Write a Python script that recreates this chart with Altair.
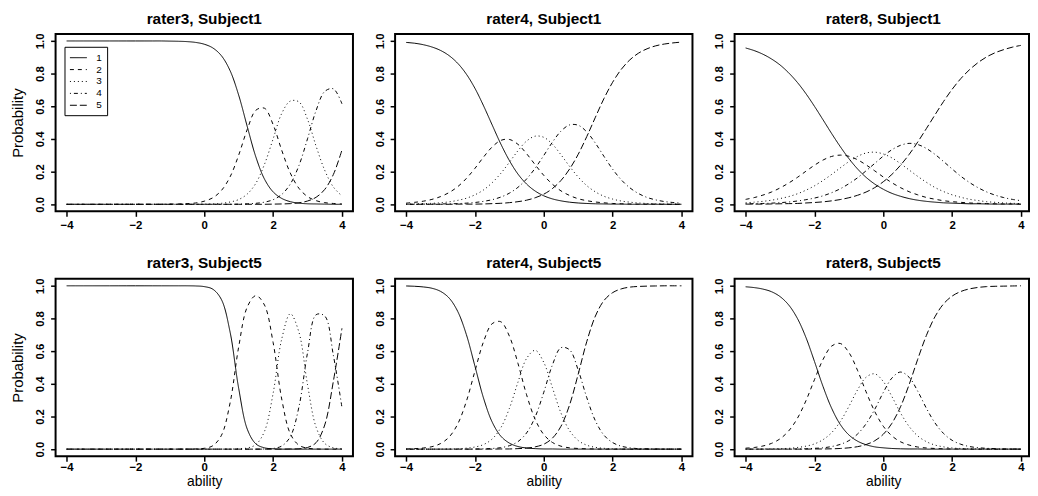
import altair as alt
import pandas as pd

THETA = [-4, -3.75, -3.5, -3.25, -3, -2.75, -2.5, -2.25, -2, -1.75, -1.5, -1.25, -1, -0.75,
         -0.5, -0.25, 0, 0.25, 0.5, 0.75, 1, 1.25, 1.5, 1.75, 2, 2.25, 2.5, 2.75, 3, 3.25,
         3.5, 3.75, 4]

CATEGORIES = ["1", "2", "3", "4", "5"]

# rater3, Subject1
R3S1_C1 = [1, 1, 1, 1, 1, 1, 1, 1, 1, 1, 1, 1, 0.999, 0.998, 0.996, 0.991, 0.980, 0.957, 0.909,
           0.818, 0.668, 0.475, 0.289, 0.154, 0.076, 0.036, 0.016, 0.007, 0.003, 0.002, 0.001, 0, 0]
R3S1_C2 = [0, 0, 0, 0, 0, 0, 0, 0, 0, 0, 0, 0, 0.001, 0.002, 0.004, 0.008, 0.019, 0.040, 0.085,
           0.168, 0.301, 0.459, 0.576, 0.588, 0.488, 0.331, 0.191, 0.098, 0.047, 0.022, 0.010,
           0.005, 0.002]
R3S1_C3 = [0, 0, 0, 0, 0, 0, 0, 0, 0, 0, 0, 0, 0, 0, 0, 0, 0.001, 0.003, 0.006, 0.014, 0.029,
           0.063, 0.129, 0.245, 0.400, 0.556, 0.632, 0.627, 0.520, 0.355, 0.208, 0.106, 0.051]
R3S1_C4 = [0, 0, 0, 0, 0, 0, 0, 0, 0, 0, 0, 0, 0, 0, 0, 0, 0, 0, 0, 0, 0.001, 0.003, 0.006,
           0.013, 0.028, 0.060, 0.124, 0.237, 0.401, 0.575, 0.691, 0.707, 0.615]
R3S1_C5 = [0, 0, 0, 0, 0, 0, 0, 0, 0, 0, 0, 0, 0, 0, 0, 0, 0, 0, 0, 0, 0, 0, 0, 0, 0.001,
           0.002, 0.004, 0.009, 0.020, 0.043, 0.091, 0.182, 0.332]

# rater4, Subject1
R4S1_C1 = [0.991, 0.986, 0.977, 0.963, 0.942, 0.910, 0.863, 0.797, 0.710, 0.603, 0.486, 0.370,
           0.268, 0.185, 0.124, 0.081, 0.052, 0.033, 0.021, 0.013, 0.008, 0.005, 0.003, 0.002,
           0.001, 0.001, 0, 0, 0, 0, 0, 0, 0]
R4S1_C2 = [0.007, 0.012, 0.019, 0.030, 0.047, 0.072, 0.108, 0.158, 0.220, 0.289, 0.351, 0.391,
           0.397, 0.367, 0.310, 0.242, 0.177, 0.123, 0.082, 0.054, 0.034, 0.022, 0.014, 0.009,
           0.005, 0.003, 0.002, 0.001, 0.001, 0.001, 0, 0, 0]
R4S1_C3 = [0.001, 0.002, 0.004, 0.006, 0.009, 0.015, 0.024, 0.037, 0.058, 0.088, 0.132, 0.189,
           0.257, 0.328, 0.387, 0.417, 0.410, 0.368, 0.303, 0.232, 0.167, 0.114, 0.076, 0.049,
           0.032, 0.020, 0.013, 0.008, 0.005, 0.003, 0.002, 0.001, 0.001]
R4S1_C4 = [0, 0, 0.001, 0.001, 0.002, 0.003, 0.004, 0.007, 0.011, 0.018, 0.028, 0.044, 0.068,
           0.104, 0.155, 0.221, 0.299, 0.380, 0.448, 0.486, 0.484, 0.443, 0.374, 0.293, 0.215,
           0.150, 0.101, 0.066, 0.042, 0.027, 0.017, 0.011, 0.007]
R4S1_C5 = [0, 0, 0, 0, 0, 0, 0.001, 0.001, 0.001, 0.002, 0.004, 0.006, 0.010, 0.016, 0.025,
           0.040, 0.062, 0.096, 0.146, 0.216, 0.306, 0.415, 0.533, 0.648, 0.747, 0.826, 0.884,
           0.925, 0.952, 0.970, 0.981, 0.988, 0.993]

# rater8, Subject1
R8S1_C1 = [0.957, 0.941, 0.919, 0.890, 0.853, 0.805, 0.747, 0.678, 0.600, 0.517, 0.433, 0.353,
           0.280, 0.217, 0.165, 0.124, 0.092, 0.067, 0.049, 0.035, 0.025, 0.018, 0.013, 0.009,
           0.007, 0.005, 0.003, 0.003, 0.002, 0.001, 0.001, 0.001, 0]
R8S1_C2 = [0.030, 0.041, 0.056, 0.075, 0.100, 0.130, 0.164, 0.202, 0.239, 0.271, 0.293, 0.301,
           0.294, 0.273, 0.241, 0.205, 0.167, 0.132, 0.102, 0.077, 0.058, 0.042, 0.031, 0.022,
           0.016, 0.012, 0.008, 0.006, 0.004, 0.003, 0.002, 0.002, 0.001]
R8S1_C3 = [0.009, 0.013, 0.018, 0.025, 0.035, 0.047, 0.064, 0.086, 0.113, 0.146, 0.183, 0.223,
           0.261, 0.293, 0.314, 0.319, 0.308, 0.284, 0.249, 0.210, 0.171, 0.135, 0.103, 0.078,
           0.058, 0.043, 0.031, 0.023, 0.016, 0.012, 0.008, 0.006, 0.004]
R8S1_C4 = [0.003, 0.004, 0.005, 0.007, 0.010, 0.014, 0.020, 0.028, 0.038, 0.052, 0.071, 0.095,
           0.126, 0.162, 0.205, 0.250, 0.295, 0.334, 0.361, 0.373, 0.366, 0.342, 0.306, 0.262,
           0.216, 0.172, 0.134, 0.102, 0.076, 0.056, 0.041, 0.030, 0.022]
R8S1_C5 = [0.001, 0.001, 0.001, 0.002, 0.003, 0.004, 0.005, 0.008, 0.011, 0.015, 0.021, 0.029,
           0.040, 0.055, 0.075, 0.102, 0.138, 0.183, 0.239, 0.305, 0.381, 0.463, 0.547, 0.629,
           0.704, 0.769, 0.823, 0.867, 0.902, 0.928, 0.947, 0.962, 0.973]

# rater3, Subject5
R3S5_C1 = [1, 1, 1, 1, 1, 1, 1, 1, 1, 1, 1, 1, 1, 1, 1, 0.999, 0.995, 0.979, 0.915, 0.717,
           0.372, 0.122, 0.032, 0.008, 0.002, 0, 0, 0, 0, 0, 0, 0, 0]
R3S5_C2 = [0, 0, 0, 0, 0, 0, 0, 0, 0, 0, 0, 0, 0, 0, 0, 0.001, 0.005, 0.021, 0.085, 0.283,
           0.626, 0.871, 0.940, 0.882, 0.653, 0.307, 0.094, 0.024, 0.006, 0.001, 0, 0, 0]
R3S5_C3 = [0, 0, 0, 0, 0, 0, 0, 0, 0, 0, 0, 0, 0, 0, 0, 0, 0, 0, 0, 0, 0.002, 0.007, 0.028,
           0.109, 0.341, 0.674, 0.829, 0.716, 0.394, 0.134, 0.035, 0.008, 0.002]
R3S5_C4 = [0, 0, 0, 0, 0, 0, 0, 0, 0, 0, 0, 0, 0, 0, 0, 0, 0, 0, 0, 0, 0, 0, 0, 0.001, 0.004,
           0.019, 0.076, 0.258, 0.590, 0.823, 0.815, 0.575, 0.255]
R3S5_C5 = [0, 0, 0, 0, 0, 0, 0, 0, 0, 0, 0, 0, 0, 0, 0, 0, 0, 0, 0, 0, 0, 0, 0, 0, 0, 0,
           0.001, 0.002, 0.010, 0.040, 0.148, 0.415, 0.740]

# rater4, Subject5
R4S5_C1 = [0.999, 0.997, 0.993, 0.985, 0.966, 0.925, 0.843, 0.702, 0.508, 0.312, 0.166, 0.080,
           0.037, 0.016, 0.007, 0.003, 0.001, 0.001, 0, 0, 0, 0, 0, 0, 0, 0, 0, 0, 0, 0, 0, 0, 0]
R4S5_C2 = [0.001, 0.003, 0.007, 0.015, 0.034, 0.074, 0.154, 0.292, 0.478, 0.658, 0.768, 0.780,
           0.692, 0.525, 0.333, 0.182, 0.089, 0.041, 0.018, 0.008, 0.004, 0.002, 0.001, 0, 0, 0,
           0, 0, 0, 0, 0, 0, 0]
R4S5_C3 = [0, 0, 0, 0, 0, 0.001, 0.002, 0.006, 0.013, 0.028, 0.062, 0.130, 0.249, 0.410, 0.555,
           0.605, 0.531, 0.377, 0.221, 0.113, 0.053, 0.024, 0.011, 0.005, 0.002, 0.001, 0, 0, 0,
           0, 0, 0, 0]
R4S5_C4 = [0, 0, 0, 0, 0, 0, 0, 0, 0.001, 0.002, 0.004, 0.009, 0.021, 0.046, 0.099, 0.197,
           0.348, 0.515, 0.621, 0.608, 0.484, 0.315, 0.173, 0.085, 0.040, 0.018, 0.008, 0.003,
           0.002, 0.001, 0, 0, 0]
R4S5_C5 = [0, 0, 0, 0, 0, 0, 0, 0, 0, 0, 0, 0.001, 0.001, 0.003, 0.006, 0.014, 0.030, 0.067,
           0.140, 0.271, 0.459, 0.659, 0.815, 0.910, 0.958, 0.981, 0.992, 0.996, 0.998, 0.999,
           1, 1, 1]

# rater8, Subject5
R8S5_C1 = [0.994, 0.989, 0.980, 0.964, 0.934, 0.883, 0.802, 0.685, 0.537, 0.383, 0.250, 0.151,
           0.087, 0.049, 0.027, 0.014, 0.008, 0.004, 0.002, 0.001, 0.001, 0, 0, 0, 0, 0, 0, 0,
           0, 0, 0, 0, 0]
R8S5_C2 = [0.006, 0.010, 0.019, 0.035, 0.063, 0.111, 0.187, 0.295, 0.425, 0.549, 0.631, 0.647,
           0.592, 0.483, 0.351, 0.231, 0.140, 0.081, 0.045, 0.025, 0.013, 0.007, 0.004, 0.002,
           0.001, 0.001, 0, 0, 0, 0, 0, 0, 0]
R8S5_C3 = [0, 0, 0.001, 0.002, 0.003, 0.005, 0.010, 0.018, 0.032, 0.058, 0.101, 0.169, 0.261,
           0.362, 0.440, 0.461, 0.414, 0.322, 0.222, 0.139, 0.081, 0.046, 0.025, 0.014, 0.007,
           0.004, 0.002, 0.001, 0.001, 0, 0, 0, 0]
R8S5_C4 = [0, 0, 0, 0, 0, 0.001, 0.001, 0.002, 0.005, 0.008, 0.016, 0.029, 0.052, 0.092, 0.155,
           0.243, 0.347, 0.435, 0.472, 0.440, 0.355, 0.251, 0.161, 0.096, 0.054, 0.030, 0.016,
           0.009, 0.005, 0.003, 0.001, 0.001, 0]
R8S5_C5 = [0, 0, 0, 0, 0, 0, 0, 0, 0.001, 0.001, 0.002, 0.004, 0.008, 0.015, 0.028, 0.051,
           0.091, 0.158, 0.259, 0.395, 0.550, 0.695, 0.810, 0.889, 0.937, 0.965, 0.981, 0.990,
           0.995, 0.997, 0.998, 0.999, 1]

PANEL_TITLES = ["rater3, Subject1", "rater4, Subject1", "rater8, Subject1",
                "rater3, Subject5", "rater4, Subject5", "rater8, Subject5"]
PANEL_CURVES = [
    [R3S1_C1, R3S1_C2, R3S1_C3, R3S1_C4, R3S1_C5],
    [R4S1_C1, R4S1_C2, R4S1_C3, R4S1_C4, R4S1_C5],
    [R8S1_C1, R8S1_C2, R8S1_C3, R8S1_C4, R8S1_C5],
    [R3S5_C1, R3S5_C2, R3S5_C3, R3S5_C4, R3S5_C5],
    [R4S5_C1, R4S5_C2, R4S5_C3, R4S5_C4, R4S5_C5],
    [R8S5_C1, R8S5_C2, R8S5_C3, R8S5_C4, R8S5_C5],
]

X_TICKS = [-4, -2, 0, 2, 4]
Y_TICKS = [0, 0.2, 0.4, 0.6, 0.8, 1.0]
DASHES = [[1, 0], [4, 4], [1, 3], [1, 3, 4, 3], [7, 3]]

FONT = "Liberation Sans"
W, H = 300, 179
# the right-hand column is cut by the picture's edge, as in the original
W_LAST = 297
X_DOMAIN = [-4.32, 4.32]
X_DOMAIN_LAST = [-4.32, 4.2336]


def panel(i):
    rows = []
    for cat, vals in zip(CATEGORIES, PANEL_CURVES[i]):
        for t, p in zip(THETA, vals):
            rows.append({"ability": t, "prob": p, "cat": cat})
    df = pd.DataFrame(rows)
    row, col = divmod(i, 3)
    width = W_LAST if col == 2 else W
    xdom = X_DOMAIN_LAST if col == 2 else X_DOMAIN

    if row == 1:
        x_axis = alt.Axis(values=X_TICKS, title="ability", titleX=W / 2, titleY=30,
                          titleAlign="center", titleBaseline="alphabetic", titleFontSize=14,
                          labelPadding=0)
    else:
        x_axis = alt.Axis(values=X_TICKS, title=None, labelPadding=3)
    if col == 0:
        y_axis = alt.Axis(values=Y_TICKS, format=".1f", title="Probability", titleX=-33,
                          titleY=H / 2, titleAngle=270, titleAlign="center",
                          titleBaseline="alphabetic")
    else:
        y_axis = alt.Axis(values=Y_TICKS, format=".1f", title=None)

    if i == 0:
        legend = alt.Legend(
            orient="none", legendX=9, legendY=13, title=None, direction="vertical",
            fillColor="white", strokeColor="black", padding=5,
            labelFont=FONT, labelFontSize=10, labelColor="black", labelOffset=12,
            labelExpr="datum.label + '   '",
            symbolType="M-1.55,0H1.55", symbolSize=121, symbolStrokeWidth=1,
            symbolStrokeColor="black", symbolOffset=3, rowPadding=1,
        )
    else:
        legend = None

    if col == 2:
        title = alt.TitleParams(PANEL_TITLES[i], dx=(W - W_LAST) / 2)
    else:
        title = alt.TitleParams(PANEL_TITLES[i])

    return alt.Chart(df).mark_line(
        color="black", strokeWidth=1, interpolate="catmull-rom"
    ).encode(
        x=alt.X("ability:Q", scale=alt.Scale(domain=xdom, nice=False, zero=False),
                axis=x_axis),
        y=alt.Y("prob:Q", scale=alt.Scale(domain=[-0.0432, 1.0432], nice=False, zero=False),
                axis=y_axis),
        strokeDash=alt.StrokeDash("cat:N", scale=alt.Scale(domain=CATEGORIES, range=DASHES),
                                  legend=legend),
    ).properties(width=width, height=H, title=title)


def column(c):
    return alt.vconcat(panel(c), panel(c + 3), spacing=68, bounds="flush") \
        .resolve_scale(strokeDash="independent").resolve_legend(strokeDash="independent")


chart = alt.hconcat(column(0), column(1), column(2), spacing=19.5) \
    .resolve_scale(strokeDash="independent").resolve_legend(strokeDash="independent") \
    .properties(padding={"left": 2, "top": 0, "right": 0, "bottom": 0}) \
    .configure_view(stroke="black", strokeWidth=2) \
    .configure_axis(domain=False, grid=False, tickColor="black", tickWidth=1.5, tickSize=5,
                    labelFont=FONT, labelFontSize=11.5, labelFontWeight="bold",
                    labelColor="black", labelFlush=False, labelOverlap=False,
                    titleFont=FONT, titleFontSize=15, titleFontWeight="normal",
                    titleColor="black") \
    .configure_axisY(labelPadding=7, labelAngle=270, labelAlign="center",
                     labelBaseline="alphabetic") \
    .configure_title(font=FONT, fontSize=15.5, fontWeight="bold", color="black", offset=6,
                     anchor="middle")

chart.save("out.html", embed_options={"renderer": "svg", "actions": False})
